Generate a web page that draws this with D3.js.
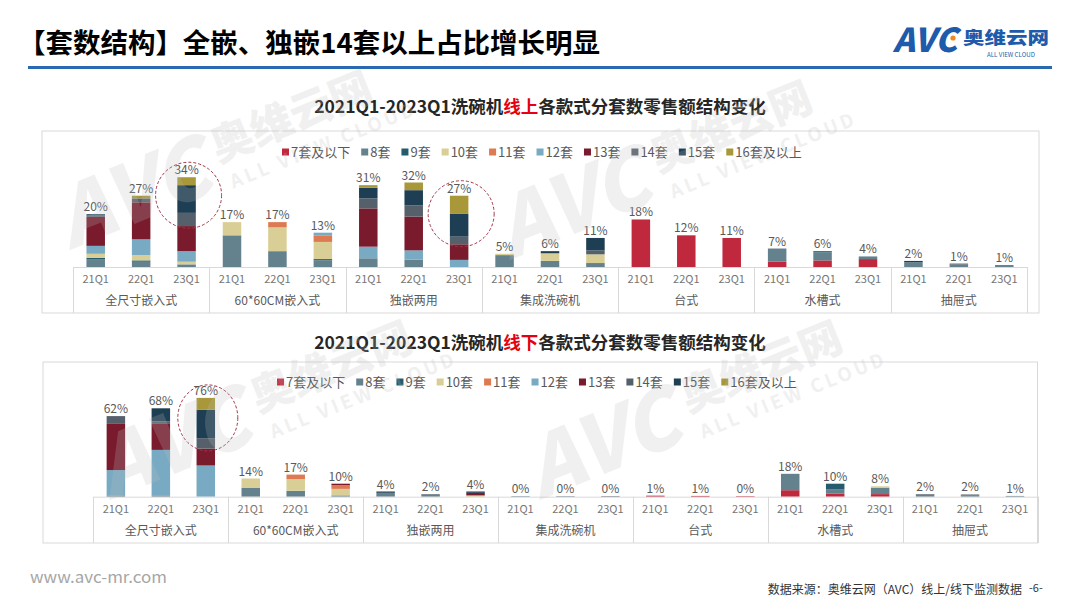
<!DOCTYPE html>
<html><head><meta charset="utf-8">
<script src="https://cdn.jsdelivr.net/npm/d3@7"></script>
<style>
body{margin:0;background:#fff}
svg{display:block}
text{font-family:"Noto Sans CJK SC","Noto Sans",sans-serif}
</style>
</head><body>
<svg id="c" width="1080" height="608"></svg>
<script>
// ---------- data ----------
const groups = ["全尺寸嵌入式","60*60CM嵌入式","独嵌两用","集成洗碗机","台式","水槽式","抽屉式"];
const periods = ["21Q1","22Q1","23Q1"];
const seriesNames = ["7套及以下","8套","9套","10套","11套","12套","13套","14套","15套","16套及以上"];
const seriesColors = ["#C0283D","#64818E","#245C6E","#D9CF96","#DE7A52","#78AAC3","#7A1B2D","#56606A","#1D3E53","#A8983A"];

// online (线上) – bars ordered group-major: 21Q1,22Q1,23Q1 per group
const on7  = [0,0,0, 0,0,0, 0,0,0, 0,0,0, 18,12,11, 2,2.5,3, 0,0,0];
const on8  = [3,2,1, 12,6,2.5, 3.3,2.8,0, 4.5,2.3,1.5, 0,0,0, 5,3,1, 1.8,0.9,0.4];
const on9  = [0.5,0.5,0, 0,0,0.5, 0,0,0, 0,0,0, 0,0,0, 0,0.5,0, 0,0,0];
const on10 = [1.5,2,1, 5,9,6.5, 0,0,0, 0.5,2.9,3.3, 0,0,0, 0,0,0, 0,0,0];
const on11 = [0,0,0, 0,2,2.5, 0,0,0, 0,0,0, 0,0,0, 0,0,0, 0,0,0];
const on12 = [3,6,4, 0,0,1, 4.4,3.5,2.7, 0,0,0, 0,0,0, 0,0,0, 0,0,0];
const on13 = [11,14,9.5, 0,0,0, 14.5,12.8,5.9, 0,0,0, 0,0,0, 0,0,0, 0,0,0];
const on14 = [0.5,1.5,5, 0,0,0, 3.8,4.2,2.9, 0,0,1.5, 0,0,0, 0,0,0, 0,0.4,0.3];
const on15 = [0.5,0,10.5, 0,0,0, 4,5.8,8.6, 0,0.8,4.7, 0,0,0, 0,0,0, 0.5,0,0];
const on16 = [0,1,3, 0,0,0, 1,2.9,6.9, 0,0,0, 0,0,0, 0,0,0, 0,0,0];
const onlineTotals = [20,27,34, 17,17,13, 31,32,27, 5,6,11, 18,12,11, 7,6,4, 2,1,1];

// offline (线下)
const off7  = [0,0,0, 0,0,0, 0,0,0, 0,0,0, 0.8,0.6,0.4, 5,2.5,2, 0,0,0];
const off8  = [1,1,0, 7,4.5,1, 3,1.5,0, 0.3,0.3,0, 0,0,0, 12.6,3,5, 1.6,1.2,0.6];
const off9  = [0,0,0, 0,0,0, 0,0,0, 0,0,0, 0,0,0, 0,4.5,0, 0,0,0];
const off10 = [0,0,0, 7,9,5, 0,0,1, 0,0,0, 0,0,0, 0,0,1, 0,0,0];
const off11 = [0,0,0, 0,3.5,3, 0,0,0, 0,0,0, 0,0,0, 0,0,0, 0,0,0];
const off12 = [19.5,35,24, 0,0,0, 0,0,0, 0,0,0, 0,0,0, 0,0,0, 0,0,0];
const off13 = [35.5,20.5,13, 0,0,1, 0,0,2, 0,0,0, 0,0,0, 0,0,0, 0,0,0];
const off14 = [6,1.5,8, 0,0,0, 0,0.5,0, 0,0,0.4, 0,0,0, 0,0,0, 0.4,0.5,0];
const off15 = [0,10,22, 0,0,0, 1,0,1, 0,0,0, 0,0,0, 0,0,0, 0,0,0];
const off16 = [0,0,9, 0,0,0, 0,0,0, 0,0,0, 0,0,0, 0,0,0, 0,0,0];
const offlineTotals = [62,68,76, 14,17,10, 4,2,4, 0,0,0, 1,1,0, 18,10,8, 2,2,1];

// ---------- drawing ----------
const svg = d3.select("#c");
const TXT = "#595959";

function rows(seriesArrays){
  const out = [];
  groups.forEach((g,gi)=>periods.forEach((p,pi)=>{
    const idx = gi*3+pi;
    const r = {group:g, period:p, idx};
    seriesNames.forEach((s,si)=>{ r[s] = seriesArrays[si][idx]; });
    out.push(r);
  }));
  return out;
}

function drawPanel(cfg){
  const g = svg.append("g");
  g.append("rect").attr("x",cfg.box[0]).attr("y",cfg.box[1])
    .attr("width",cfg.box[2]-cfg.box[0]).attr("height",cfg.box[3]-cfg.box[1])
    .attr("fill","none").attr("stroke","#D9D9D9").attr("stroke-width",1);

  const xg = d3.scaleBand().domain(groups).range(cfg.xr).padding(0);
  const xp = d3.scaleBand().domain(periods).range([0, xg.bandwidth()]).padding(0);
  const y = d3.scaleLinear().domain([0, cfg.ymax]).range([cfg.base, cfg.base - cfg.ymax*cfg.ppu]);
  const barW = 18.5;
  const cx = d => xg(d.group) + xp(d.period) + xp.bandwidth()/2;

  const data = rows(cfg.series);
  const stack = d3.stack().keys(seriesNames)(data);

  g.selectAll("g.s").data(stack).join("g")
    .attr("fill",(d,i)=>seriesColors[i])
    .selectAll("rect").data(d=>d.filter(e=>e[1]-e[0]>0)).join("rect")
    .attr("x",d=>cx(d.data)-barW/2).attr("width",barW)
    .attr("y",d=>y(d[1])).attr("height",d=>Math.max(0.6, y(d[0])-y(d[1])));

  g.selectAll("text.v").data(data).join("text")
    .attr("x",cx).attr("y",d=>y(d3.sum(seriesNames,s=>d[s]))-3)
    .attr("text-anchor","middle").attr("font-size",12).attr("fill",TXT)
    .text(d=>cfg.totals[d.idx]+"%");

  const ax = g.append("g").attr("stroke","#D9D9D9").attr("stroke-width",1);
  ax.append("line").attr("x1",cfg.xr[0]).attr("x2",cfg.xr[1]).attr("y1",cfg.base+0.5).attr("y2",cfg.base+0.5);
  const bounds = groups.map(d=>xg(d)).concat([cfg.xr[1]]);
  ax.selectAll("line.b").data(bounds).join("line")
    .attr("x1",d=>Math.round(d)+0.5).attr("x2",d=>Math.round(d)+0.5)
    .attr("y1",cfg.base).attr("y2",cfg.box[3]);
  g.selectAll("text.p").data(data).join("text")
    .attr("x",cx).attr("y",cfg.catY).attr("text-anchor","middle")
    .attr("font-size",11).attr("fill","#767676").attr("font-family","Noto Sans")
    .text(d=>d.period);
  g.selectAll("text.g").data(groups).join("text")
    .attr("x",d=>xg(d)+xg.bandwidth()/2).attr("y",cfg.grpY).attr("text-anchor","middle")
    .attr("font-size",12).attr("fill",TXT).text(d=>d);

  const lg = g.append("g").attr("transform",`translate(${cfg.legend[0]},${cfg.legend[1]})`);
  let lx = 0;
  seriesNames.forEach((s,i)=>{
    lg.append("rect").attr("x",lx).attr("y",-3.5).attr("width",7).attr("height",7).attr("fill",seriesColors[i]);
    const t = lg.append("text").attr("x",lx+9).attr("y",4.5).attr("font-size",13).attr("fill",TXT).text(s);
    lx += 9 + t.node().getComputedTextLength() + 11;
  });

  cfg.circles.forEach(c=>{
    const d = data.find(r=>r.group===c.group && r.period===c.period);
    const top = y(d3.sum(seriesNames,s=>d[s]));
    g.append("ellipse").attr("cx",cx(d)+2).attr("cy",top+c.dy)
      .attr("rx",c.rx).attr("ry",c.ry).attr("fill","none")
      .attr("stroke","#A33446").attr("stroke-width",1).attr("stroke-dasharray","3,2");
  });
}

// header
svg.append("text").attr("x",18).attr("y",53).attr("font-size",27).attr("font-weight",700)
  .attr("fill","#000").attr("textLength",582).attr("lengthAdjust","spacingAndGlyphs")
  .text("【套数结构】全嵌、独嵌14套以上占比增长明显");
svg.append("rect").attr("x",28).attr("y",66).attr("width",1024).attr("height",3).attr("fill","#2A68AF");
// logo
svg.append("text").attr("x",893).attr("y",52).attr("font-size",33).attr("font-weight",900)
  .attr("font-style","italic").attr("font-family","Liberation Sans, Arial")
  .attr("fill","#1E5BAA").attr("textLength",64).attr("lengthAdjust","spacingAndGlyphs").text("AVC");
svg.append("circle").attr("cx",953).attr("cy",38).attr("r",2.6).attr("fill","#F08A1C");
svg.append("text").attr("x",963).attr("y",44).attr("font-size",17.5).attr("font-weight",900)
  .attr("fill","#1E5BAA").attr("textLength",86).attr("lengthAdjust","spacingAndGlyphs").text("奥维云网");
svg.append("text").attr("x",987).attr("y",57).attr("font-size",6.5).attr("font-family","Liberation Sans, Arial")
  .attr("fill","#1E5BAA").attr("textLength",48).attr("lengthAdjust","spacingAndGlyphs").text("ALL VIEW CLOUD");

function subtitle(yb, red){
  const t = svg.append("text").attr("x",540).attr("y",yb).attr("text-anchor","middle")
    .attr("font-size",17.5).attr("font-weight",700).attr("fill","#262626");
  t.append("tspan").text("2021Q1-2023Q1洗碗机");
  t.append("tspan").attr("fill","#E60012").text(red);
  t.append("tspan").text("各款式分套数零售额结构变化");
}
subtitle(113,"线上");
subtitle(349,"线下");

drawPanel({
  box:[42,131,1039,313], xr:[73,1027], base:267, ymax:40, ppu:2.64,
  catY:283, grpY:305, legend:[282,152],
  series:[on7,on8,on9,on10,on11,on12,on13,on14,on15,on16], totals:onlineTotals,
  circles:[{group:"全尺寸嵌入式",period:"23Q1",dy:18,rx:33,ry:33},
           {group:"独嵌两用",period:"23Q1",dy:18,rx:33,ry:33}]
});
drawPanel({
  box:[43,362,1037.5,543], xr:[93.4,1037.5], base:496.7, ymax:80, ppu:1.3,
  catY:513, grpY:535, legend:[277,382],
  series:[off7,off8,off9,off10,off11,off12,off13,off14,off15,off16], totals:offlineTotals,
  circles:[{group:"全尺寸嵌入式",period:"23Q1",dy:20,rx:30,ry:33}]
});

// footer
svg.append("text").attr("x",30).attr("y",583).attr("font-size",15.5).attr("font-family","Liberation Sans, Arial")
  .attr("fill","#A6A6A6").attr("textLength",137).attr("lengthAdjust","spacingAndGlyphs").text("www.avc-mr.com");
svg.append("text").attr("x",1022).attr("y",594).attr("text-anchor","end").attr("font-size",12)
  .attr("fill","#333").text("数据来源：奥维云网（AVC）线上/线下监测数据");
svg.append("text").attr("x",1029).attr("y",592).attr("font-size",11).attr("fill","#333").text("-6-");

// watermarks
function watermark(x,y,s){
  const w = svg.append("g").attr("transform",`translate(${x},${y}) rotate(-22) scale(${s})`)
    .attr("fill","#BDBDBD").attr("opacity",0.22).style("pointer-events","none");
  w.append("text").attr("x",0).attr("y",0).attr("font-size",96).attr("font-weight",900)
    .attr("font-style","italic").attr("font-family","Liberation Sans, Arial").text("AVC");
  w.append("text").attr("x",200).attr("y",-30).attr("font-size",50).attr("font-weight",900).text("奥维云网");
  w.append("text").attr("x",205).attr("y",5).attr("font-size",22).attr("font-weight",700)
    .attr("letter-spacing",4).attr("font-family","Liberation Sans, Arial").text("ALL VIEW CLOUD");
}
watermark(70,250,0.85);
watermark(510,260,0.85);
watermark(110,500,0.85);
watermark(540,500,0.85);
</script>
</body></html>
